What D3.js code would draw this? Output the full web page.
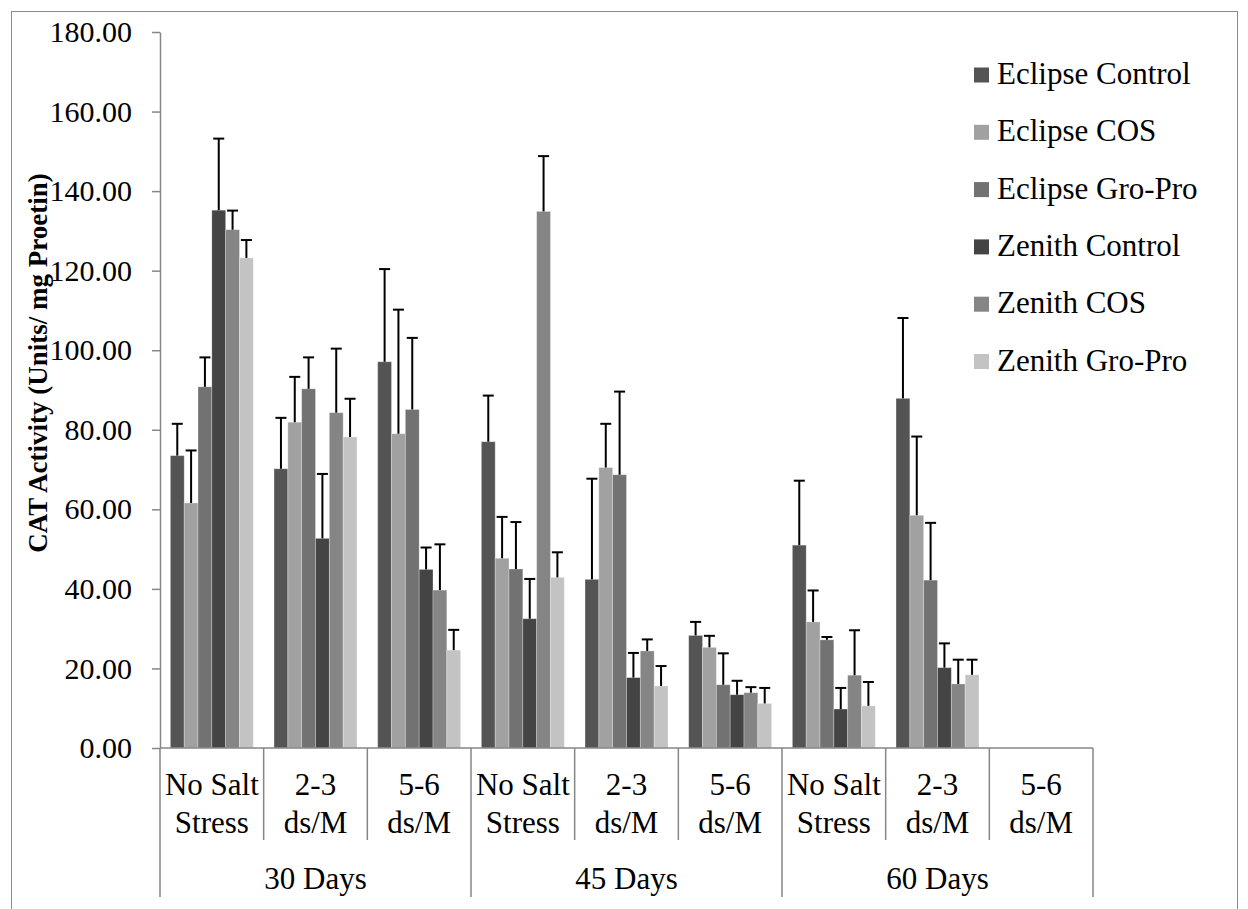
<!DOCTYPE html>
<html>
<head>
<meta charset="utf-8">
<script src="https://cdn.jsdelivr.net/npm/d3@7"></script>
<style>
  html, body { margin: 0; padding: 0; background: #fff; }
  svg { display: block; }
  svg text { font-family: "Liberation Serif", "Times New Roman", Tinos, "DejaVu Serif", serif !important; fill: #000; }
</style>
</head>
<body>
<svg id="chart" width="1248" height="909"></svg>
<script>
// Sub-categories (salt level) nested within sampling day groups
const saltLevels = [["No Salt", "Stress"], ["2-3", "ds/M"], ["5-6", "ds/M"]];
const dayGroups = ["30 Days", "45 Days", "60 Days"];

const seriesNames = ["Eclipse Control", "Eclipse COS", "Eclipse Gro-Pro",
                     "Zenith Control", "Zenith COS", "Zenith Gro-Pro"];
const seriesColors = ["#545454", "#a1a1a1", "#727272", "#444444", "#858585", "#c3c3c3"];

// Mean CAT activity per category (30d: none, 2-3, 5-6 | 45d | 60d)
const eclipseControl = [73.5, 70.2, 97.1, 77.0, 42.4, 28.3, 51.0, 87.9, 0];
const eclipseCOS     = [61.6, 81.9, 79.0, 47.7, 70.5, 25.3, 31.7, 58.5, 0];
const eclipseGroPro  = [90.8, 90.3, 85.1, 45.0, 68.7, 15.9, 27.2, 42.2, 0];
const zenithControl  = [135.2, 52.7, 44.9, 32.5, 17.7, 13.4, 9.8, 20.2, 0];
const zenithCOS      = [130.3, 84.3, 39.7, 134.9, 24.4, 13.9, 18.3, 16.1, 0];
const zenithGroPro   = [123.2, 78.2, 24.6, 42.9, 15.6, 11.2, 10.6, 18.4, 0];

// Upper error (standard error) per category
const eclipseControlErr = [8.0, 12.8, 23.3, 11.6, 25.3, 3.4, 16.2, 20.2, 0];
const eclipseCOSErr     = [13.2, 11.4, 31.2, 10.4, 11.0, 2.9, 7.9, 19.8, 0];
const eclipseGroProErr  = [7.4, 7.9, 18.0, 11.8, 20.9, 7.9, 0.7, 14.4, 0];
const zenithControlErr  = [18.0, 16.2, 5.5, 10.0, 6.2, 3.5, 5.3, 6.1, 0];
const zenithCOSErr      = [4.8, 16.1, 11.5, 13.9, 2.9, 1.4, 11.3, 6.1, 0];
const zenithGroProErr   = [4.5, 9.6, 5.1, 6.3, 5.0, 3.9, 6.0, 3.8, 0];

const yTicks = [0, 20, 40, 60, 80, 100, 120, 140, 160, 180];

const seriesValues = [eclipseControl, eclipseCOS, eclipseGroPro, zenithControl, zenithCOS, zenithGroPro];
const seriesErrors = [eclipseControlErr, eclipseCOSErr, eclipseGroProErr, zenithControlErr, zenithCOSErr, zenithGroProErr];

const svg = d3.select("#chart");

// chart frame
svg.append("rect")
  .attr("x", 11.5).attr("y", 11.5)
  .attr("width", 1226).attr("height", 920)
  .attr("fill", "none").attr("stroke", "#8a8a8a").attr("stroke-width", 1);

const plot = { left: 160, right: 1093, top: 32, bottom: 748 };

// flat list of 9 categories
const categories = [];
dayGroups.forEach((g, gi) => saltLevels.forEach((s, si) => categories.push({ key: gi + "-" + si, group: g, lines: s })));

const x0 = d3.scaleBand().domain(categories.map(c => c.key))
  .range([plot.left, plot.right]).paddingInner(0).paddingOuter(0);
const catW = x0.bandwidth();
const barW = catW / 7.5;
const x1 = d3.scaleBand().domain(seriesNames)
  .range([(catW - 6 * barW) / 2, (catW + 6 * barW) / 2]).padding(0);

const y = d3.scaleLinear().domain([0, 180]).range([plot.bottom, plot.top]);

// bars
const barData = [];
seriesNames.forEach((name, si) => {
  categories.forEach((c, ci) => {
    barData.push({ name, color: seriesColors[si], cat: c.key, v: seriesValues[si][ci], e: seriesErrors[si][ci] });
  });
});

const bars = svg.append("g");
bars.selectAll("rect").data(barData).join("rect")
  .attr("x", d => x0(d.cat) + x1(d.name))
  .attr("y", d => y(d.v))
  .attr("width", x1.bandwidth())
  .attr("height", d => y(0) - y(d.v))
  .attr("fill", d => d.color)
  .attr("stroke", "rgba(255,255,255,0.35)")
  .attr("stroke-width", 0.8);

// error bars (plus direction only)
const errG = svg.append("g").attr("stroke", "#000").attr("stroke-width", 2);
const withErr = barData.filter(d => d.e > 0);
const cx = d => x0(d.cat) + x1(d.name) + x1.bandwidth() / 2;
errG.selectAll("line.v").data(withErr).join("line").attr("class", "v")
  .attr("x1", cx).attr("x2", cx)
  .attr("y1", d => y(d.v)).attr("y2", d => y(d.v + d.e));
errG.selectAll("line.c").data(withErr).join("line").attr("class", "c")
  .attr("x1", d => cx(d) - 5.5).attr("x2", d => cx(d) + 5.5)
  .attr("y1", d => y(d.v + d.e)).attr("y2", d => y(d.v + d.e));

// y axis
const yAxis = svg.append("g")
  .attr("transform", `translate(${plot.left},0)`)
  .call(d3.axisLeft(y).tickValues(yTicks).tickFormat(d3.format(".2f")).tickSize(8).tickSizeOuter(0).tickPadding(20));
yAxis.attr("font-family", null);
yAxis.selectAll("path, line").attr("stroke", "#868686").attr("stroke-width", 1.5);
yAxis.selectAll("text").attr("font-size", 30).attr("fill", "#000");

// y axis title
svg.append("text")
  .attr("transform", "translate(47,363) rotate(-90)")
  .attr("text-anchor", "middle")
  .attr("font-weight", "bold")
  .attr("font-size", 27)
  .text("CAT Activity (Units/ mg Proetin)");

// category axis line and separators
const axisG = svg.append("g").attr("stroke", "#868686").attr("stroke-width", 1.5);
axisG.append("line").attr("x1", plot.left).attr("x2", plot.right).attr("y1", plot.bottom).attr("y2", plot.bottom);
const bounds = categories.map(c => x0(c.key)).concat([plot.right]);
bounds.forEach((bx, i) => {
  const isGroup = i % 3 === 0;
  axisG.append("line").attr("x1", bx).attr("x2", bx)
    .attr("y1", plot.bottom).attr("y2", isGroup ? 897 : 840);
});

// sub-category labels
const catLabels = svg.append("g").attr("font-size", 31).attr("text-anchor", "middle");
categories.forEach(c => {
  const t = catLabels.append("text").attr("x", x0(c.key) + catW / 2);
  t.append("tspan").attr("x", x0(c.key) + catW / 2).attr("y", 795).text(c.lines[0]);
  t.append("tspan").attr("x", x0(c.key) + catW / 2).attr("y", 833).text(c.lines[1]);
});

// day group labels
const groupLabels = svg.append("g").attr("font-size", 31).attr("text-anchor", "middle");
dayGroups.forEach((g, gi) => {
  const gx = (bounds[gi * 3] + bounds[gi * 3 + 3]) / 2;
  groupLabels.append("text").attr("x", gx).attr("y", 889).text(g);
});

// legend
const legend = svg.append("g").attr("transform", "translate(974,0)");
seriesNames.forEach((name, i) => {
  const cy = 75 + i * 57.3;
  legend.append("rect").attr("x", 0).attr("y", cy - 7.5).attr("width", 15).attr("height", 15).attr("fill", seriesColors[i]);
  legend.append("text").attr("x", 23).attr("y", cy + 9).attr("font-size", 31).text(name);
});
</script>
</body>
</html>
